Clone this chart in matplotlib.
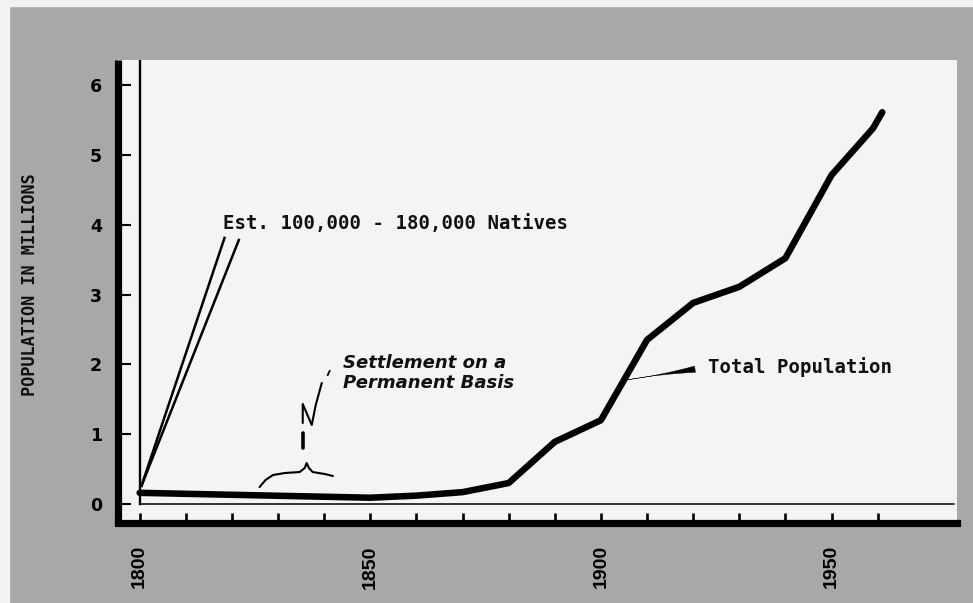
import matplotlib
matplotlib.use("Agg")
import matplotlib.pyplot as plt
from matplotlib.patches import Rectangle

# ---- data ----
years = [1800, 1850, 1860, 1870, 1880, 1890, 1900, 1910, 1920, 1930, 1940, 1950, 1959, 1961]
population = [0.16, 0.09, 0.12, 0.17, 0.30, 0.89, 1.20, 2.35, 2.88, 3.11, 3.52, 4.71, 5.38, 5.61]

x_major_ticks = [1800, 1850, 1900, 1950]
x_tick_labels = ["1800", "1850", "1900", "1950"]
x_minor_ticks = list(range(1800, 1961, 10))
y_ticks = [0, 1, 2, 3, 4, 5, 6]
y_tick_labels = ["0", "1", "2", "3", "4", "5", "6"]

y_label = "POPULATION IN MILLIONS"
natives_label = "Est. 100,000 - 180,000 Natives"
settlement_label = "Settlement on a\nPermanent Basis"
total_label = "Total Population"

# ---- figure ----
W, H = 973, 603
fig = plt.figure(figsize=(W / 100, H / 100), dpi=100, facecolor="#a8a8a8")
fig.patches.append(Rectangle((0, 1 - 6 / H), 1, 6 / H, transform=fig.transFigure,
                             color="#f2f2f2", zorder=0))
fig.patches.append(Rectangle((0, 0), 9 / W, 1, transform=fig.transFigure,
                             color="#f2f2f2", zorder=0))

ax = fig.add_axes([117.5 / W, 80 / H, (957 - 117.5) / W, 463 / H])
ax.set_facecolor("#f4f4f4")
x0, x1 = 1795.2, 1977.2
y0, y1 = -0.272, 6.358
ax.set_xlim(x0, x1)
ax.set_ylim(y0, y1)

for s in ["top", "right"]:
    ax.spines[s].set_visible(False)
for s in ["left", "bottom"]:
    ax.spines[s].set_linewidth(5.2)
    ax.spines[s].set_color("black")
ax.spines["left"].set_capstyle("butt")

ax.set_xticks(x_major_ticks)
ax.set_xticklabels(x_tick_labels, rotation=90, fontfamily="Liberation Sans",
                   fontweight="bold", fontsize=14)
ax.set_xticks(x_minor_ticks, minor=True)
ax.tick_params(axis="x", which="both", direction="in", length=7.4, width=1.9,
               pad=16, colors="black")
ax.set_yticks(y_ticks)
ax.set_yticklabels(y_tick_labels, fontfamily="DejaVu Sans", fontweight="bold",
                   fontsize=12.5)
ax.tick_params(axis="y", direction="in", length=9, width=1.5, pad=11, colors="black")

# thin zero line and 1800 line
ax.axhline(0, xmin=(1800 - x0) / (x1 - x0), xmax=0.996, color="black", lw=1.1, zorder=2)
ax.axvline(1800, ymin=(0 - y0) / (y1 - y0), ymax=1, color="black", lw=1.7, zorder=2)

# total population curve
ax.plot(years, population, color="black", lw=4.7, solid_capstyle="round",
        solid_joinstyle="round", zorder=4)

# natives annotation
ax.plot([1800.4, 1818.4], [0.26, 3.81], color="black", lw=1.8, zorder=3)
ax.plot([1800.4, 1821.5], [0.26, 3.78], color="black", lw=1.8, zorder=3)
ax.text(1818.0, 4.02, natives_label, ha="left", va="center",
        fontfamily="DejaVu Sans Mono", fontweight="bold", fontsize=13.7, color="#111111")

# total population label with wedge leader
ax.annotate("", xy=(1905.9, 1.78), xytext=(1920.4, 1.93),
            arrowprops=dict(arrowstyle="wedge,tail_width=0.45,shrink_factor=0.15",
                            fc="black", ec="black", lw=0.3, shrinkA=0, shrinkB=0,
                            mutation_scale=10), zorder=4)
ax.text(1923.2, 1.96, total_label, ha="left", va="center",
        fontfamily="DejaVu Sans Mono", fontweight="bold", fontsize=13.7, color="#111111")

# settlement annotation: brace and hand-drawn pointer
brace_x = [1826.0, 1827.3, 1828.9, 1831.5, 1834.7, 1835.8, 1836.2, 1836.7, 1837.5, 1840.1, 1841.9]
brace_y = [0.243, 0.344, 0.415, 0.444, 0.458, 0.516, 0.587, 0.516, 0.458, 0.430, 0.401]
ax.plot(brace_x, brace_y, color="black", lw=1.5, solid_capstyle="round",
        solid_joinstyle="round", zorder=3)
ax.plot([1835.36, 1835.36], [1.017, 0.802], color="black", lw=2.6,
        solid_capstyle="round", zorder=3)
ax.plot([1835.36, 1835.36, 1837.31, 1838.18, 1839.48],
        [1.16, 1.432, 1.131, 1.418, 1.733], color="black", lw=1.5,
        solid_capstyle="round", solid_joinstyle="round", zorder=3)
ax.plot([1840.78, 1841.2], [1.847, 1.905], color="black", lw=1.3, zorder=3)
ax.text(1844.0, 1.88, settlement_label, ha="left", va="center",
        fontfamily="DejaVu Sans", fontstyle="oblique", fontweight="bold",
        fontsize=13, linespacing=1.15, color="#111111")

# y-axis title
fig.text(30 / W, 1 - 285 / H, y_label, rotation=90, ha="center", va="center",
         fontfamily="DejaVu Sans Mono", fontweight="bold", fontsize=12.2, color="#111111")

fig.savefig("out.png", dpi=100, facecolor=fig.get_facecolor())
